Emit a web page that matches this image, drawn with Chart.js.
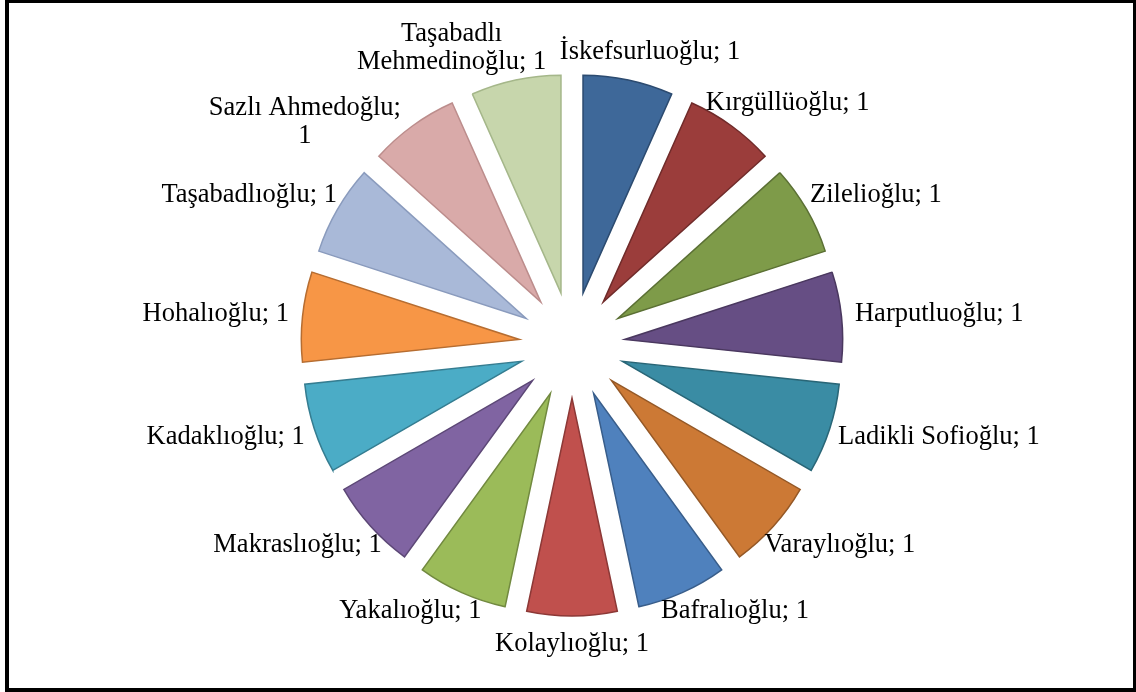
<!DOCTYPE html>
<html>
<head>
<meta charset="utf-8">
<script src="https://cdn.jsdelivr.net/npm/chart.js@4.4.1/dist/chart.umd.min.js"></script>
<style>
  html, body { margin: 0; padding: 0; background: #fff; }
  #wrap { position: relative; width: 1136px; height: 692px; overflow: hidden; }
  #frame { position: absolute; left: 5px; top: -1px; width: 1132px; height: 693px;
           border: 4px solid #000; box-sizing: border-box; pointer-events: none; }
</style>
</head>
<body>
<div id="wrap">
  <canvas id="piechart"></canvas>
  <div id="frame"></div>
</div>
<script>
const families = [
  'İskefsurluoğlu', 'Kırgüllüoğlu', 'Zilelioğlu', 'Harputluoğlu', 'Ladikli Sofioğlu',
  'Varaylıoğlu', 'Bafralıoğlu', 'Kolaylıoğlu', 'Yakalıoğlu', 'Makraslıoğlu',
  'Kadaklıoğlu', 'Hohalıoğlu', 'Taşabadlıoğlu', 'Sazlı Ahmedoğlu', 'Taşabadlı Mehmedinoğlu'
];
const values = [1, 1, 1, 1, 1, 1, 1, 1, 1, 1, 1, 1, 1, 1, 1];

const fillColors = [
  '#3e6899', '#9b3d3b', '#7e9b49', '#664e84', '#3a8ca4',
  '#cc7935', '#4f81bd', '#c0504d', '#9bbb59', '#8064a2',
  '#4bacc6', '#f79646', '#a9b9d8', '#d9aaa9', '#c7d6ac'
];
const edgeColors = [
  '#2c4b70', '#702b2a', '#5b7034', '#4a385f', '#296677',
  '#945826', '#385d8a', '#8c3836', '#71893f', '#5c4776',
  '#357d91', '#b66d31', '#8a9bbd', '#bc8d8c', '#a5b78a'
];

const explode = 53;      // distance each slice is pulled out
const labelGap = 14;
const labelFont = '26.5px "Liberation Serif", "Times New Roman", serif';
const lineHeight = 28;
const maxLabelWidth = 205;
const padX = 6, padY = 8;   // spacing kept between label boxes

function wrapLabel(ctx, text) {
  const words = text.split(' ');
  const lines = [];
  let cur = '';
  words.forEach(w => {
    const test = cur ? cur + ' ' + w : w;
    if (cur && ctx.measureText(test).width > maxLabelWidth) {
      lines.push(cur);
      cur = w;
    } else {
      cur = test;
    }
  });
  if (cur) lines.push(cur);
  return lines;
}

// label box centre: anchor on the ring, box pushed outward by half its size
function boxAt(angle, dist, hw, hh) {
  const c = Math.cos(angle), s = Math.sin(angle);
  return { x: c * dist + c * hw, y: s * dist + s * hh, hw, hh };
}

function overlaps(a, b) {
  return Math.abs(a.x - b.x) < a.hw + b.hw + 2 * padX &&
         Math.abs(a.y - b.y) < a.hh + b.hh + 2 * padY;
}

const explodePlugin = {
  id: 'explode',
  afterDatasetUpdate(chart, args) {
    args.meta.data.forEach(arc => {
      const mid = (arc.startAngle + arc.endAngle) / 2;
      arc.x += Math.cos(mid) * explode;
      arc.y += Math.sin(mid) * explode;
    });
  }
};

const labelPlugin = {
  id: 'outsideLabels',
  afterDatasetsDraw(chart) {
    const ctx = chart.ctx;
    const meta = chart.getDatasetMeta(0);
    ctx.save();
    ctx.font = labelFont;
    ctx.fillStyle = '#000';
    ctx.textAlign = 'center';
    ctx.textBaseline = 'middle';

    const items = meta.data.map((arc, i) => {
      const lines = wrapLabel(ctx, families[i] + '; ' + values[i]);
      const w = Math.max(...lines.map(l => ctx.measureText(l).width));
      const mid = (arc.startAngle + arc.endAngle) / 2;
      return {
        i, lines, mid,
        hw: w / 2, hh: lines.length * lineHeight / 2,
        ox: arc.x - Math.cos(mid) * explode,
        oy: arc.y - Math.sin(mid) * explode,
        dist: arc.outerRadius + explode + labelGap
      };
    });

    // labels nearest the vertical axis go first, the rest slide away from it
    const key = it => Math.round(Math.abs(Math.cos(it.mid)) * 1e6);
    const order = items.slice().sort((a, b) => (key(a) - key(b)) || (a.i - b.i));
    const placed = [];
    order.forEach(it => {
      const dir = Math.sin(it.mid) * Math.cos(it.mid) > 0 ? -1 : 1;
      let ang = it.mid;
      let box = boxAt(ang, it.dist, it.hw, it.hh);
      for (let s = 0; s < 160; s++) {
        if (!placed.some(p => overlaps(box, p))) break;
        ang += dir * Math.PI / 360;
        box = boxAt(ang, it.dist, it.hw, it.hh);
      }
      it.box = box;
      placed.push(box);
    });

    items.forEach(it => {
      const cx = it.ox + it.box.x;
      const cy = it.oy + it.box.y;
      it.lines.forEach((line, k) => {
        ctx.fillText(line, cx, cy - it.hh + lineHeight * (k + 0.5));
      });
    });
    ctx.restore();
  }
};

new Chart(document.getElementById('piechart'), {
  type: 'pie',
  data: {
    labels: families,
    datasets: [{
      data: values,
      backgroundColor: fillColors,
      borderColor: edgeColors,
      borderWidth: 1.5,
      borderJoinStyle: 'miter',
      radius: 218
    }]
  },
  options: {
    responsive: true,
    maintainAspectRatio: false,
    animation: false,
    layout: { padding: { left: 8, right: 0, top: 0, bottom: 2 } },
    plugins: {
      legend: { display: false },
      tooltip: { enabled: false }
    }
  },
  plugins: [explodePlugin, labelPlugin]
});
</script>
</body>
</html>
